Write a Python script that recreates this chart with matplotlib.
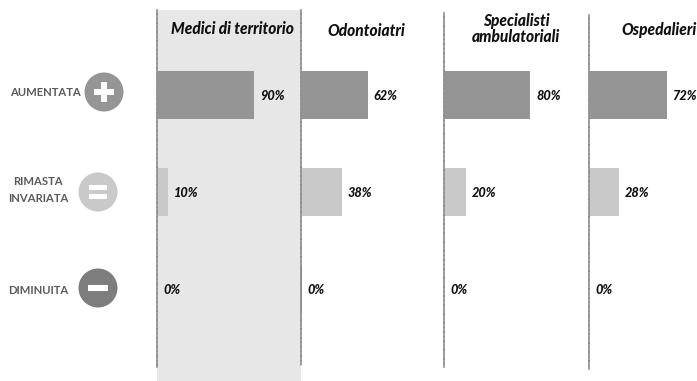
import matplotlib
matplotlib.use("Agg")
import matplotlib.pyplot as plt
from matplotlib.patches import Circle, Rectangle

W, H = 697, 381
panels = ["Medici di territorio", "Odontoiatri", "Specialisti\nambulatoriali", "Ospedalieri"]
rows = ["AUMENTATA", "RIMASTA\nINVARIATA", "DIMINUITA"]
medici = [90, 10, 0]
odontoiatri = [62, 38, 0]
specialisti = [80, 20, 0]
ospedalieri = [72, 28, 0]
series = [medici, odontoiatri, specialisti, ospedalieri]
colors = ["#959595", "#c9c9c9", "#7d7d7d"]

plt.rcParams['font.family'] = ['Lato', 'DejaVu Sans']
fig = plt.figure(figsize=(W / 100, H / 100), dpi=100, facecolor="white")

bg = fig.add_axes([0, 0, 1, 1], zorder=0)
bg.set_xlim(0, W); bg.set_ylim(H, 0); bg.axis("off")
bg.add_patch(Rectangle((157, 10), 144, 371, facecolor="#e7e7e7", edgecolor="none"))

lefts = [157, 301, 444, 589]
spans = [(10, 367), (10, 365), (13, 367), (15, 369)]
widths = [144, 143, 145, 108]
px_per_pct = 1.08
row_c, row_pitch = 95, 97
hdr = [(232, 29.5), (366, 31), (516, 29), (659, 30.5)]
for i, vals in enumerate(series):
    ax = fig.add_axes([lefts[i] / W, 0, widths[i] / W, 1], zorder=1)
    ax.patch.set_alpha(0)
    ax.set_xlim(0, widths[i] / px_per_pct)
    ax.set_ylim((H - row_c) / row_pitch, -row_c / row_pitch)
    ax.barh(range(3), vals, height=0.49, color=colors[:3], linewidth=0)
    for sp in ["top", "right", "bottom"]:
        ax.spines[sp].set_visible(False)
    ax.spines["left"].set_bounds((spans[i][0] - row_c) / row_pitch, (spans[i][1] - row_c) / row_pitch)
    ax.spines["left"].set_color("#8f8f8f")
    ax.spines["left"].set_linewidth(1.2)
    ax.spines["left"].set_linestyle((0, (2.2, 0.5)))
    ax.set_xticks([]); ax.set_yticks([])
    for j, v in enumerate(vals):
        ax.annotate(f"{v}%", (v, j), xytext=(4.2 if v else 4.6, -0.6), textcoords="offset points",
                    va="center", ha="left", fontsize=9.2, fontweight="black", style="italic", color="#111111")
    bg.text(hdr[i][0], hdr[i][1], panels[i], ha="center", va="center", fontsize=11.2,
            fontweight="black", style="italic", color="#111111", linespacing=1.05)
    if i == 1:
        ax.vlines(0, 1.75, 2.25, color="#666666", lw=1.4)

labels = [(45.5, 92), (38, 190), (38, 290)]
icons = [(104, 92), (98, 192), (98, 288)]
for j, name in enumerate(rows):
    bg.text(labels[j][0], labels[j][1], name, ha="center", va="center", fontsize=8.1,
            color="#5a5a5a", fontweight="bold", linespacing=1.6)
    x, y = icons[j]
    bg.add_patch(Circle((x, y), 19.5, facecolor=colors[j], edgecolor="none"))
bx, by = icons[0]
bg.add_patch(Rectangle((bx - 10, by - 3.3), 20, 6.6, facecolor="white"))
bg.add_patch(Rectangle((bx - 3.3, by - 10), 6.6, 20, facecolor="white"))
bx, by = icons[1]
bg.add_patch(Rectangle((bx - 9, by - 7), 18, 4.6, facecolor="white"))
bg.add_patch(Rectangle((bx - 9, by + 2), 18, 4.6, facecolor="white"))
bx, by = icons[2]
bg.add_patch(Rectangle((bx - 10, by - 3), 20, 6, facecolor="white"))

fig.savefig("out.png", dpi=100)
